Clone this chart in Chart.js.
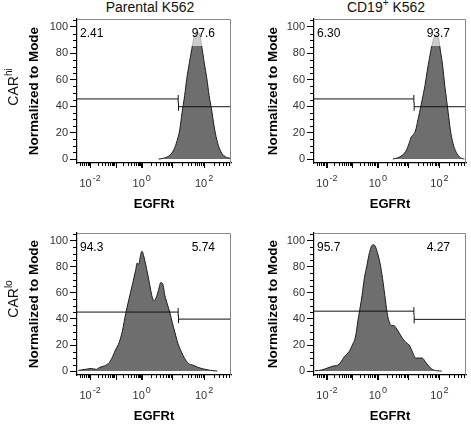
<!DOCTYPE html>
<html>
<head>
<meta charset="utf-8">
<script src="https://cdn.jsdelivr.net/npm/chart.js@4.4.0/dist/chart.umd.min.js"></script>
<style>
  body { margin: 0; background: #fff; font-family: "Liberation Sans", Arial, sans-serif; }
  #wrap { position: relative; width: 471px; height: 424px; overflow: hidden; }
  canvas { position: absolute; }
  .col { position: absolute; top: -1px; font-size: 14px; transform: translateX(-50%); white-space: nowrap; color: #111; }
  .row { position: absolute; font-size: 14px; transform: translate(-50%, -50%) rotate(-90deg); white-space: nowrap; color: #111; }
  sup { font-size: 10px; vertical-align: 6px; line-height: 0; }
</style>
</head>
<body>
<div id="wrap">
  <div class="col" style="left:150px">Parental K562</div>
  <div class="col" style="left:386px">CD19<sup>+</sup> K562</div>
  <canvas id="c0" width="236" height="212" style="left:0;top:0"></canvas>
  <canvas id="c1" width="235" height="212" style="left:236px;top:0"></canvas>
  <canvas id="c2" width="236" height="212" style="left:0;top:212px"></canvas>
  <canvas id="c3" width="235" height="212" style="left:236px;top:212px"></canvas>
  <div class="row" style="left:13px;top:87px">CAR<sup>hi</sup></div>
  <div class="row" style="left:13px;top:299px">CAR<sup>lo</sup></div>
</div>

<script>
  // x values are display channels (0-100 across the biexponential axis)
  const xTickPos = [8.5, 42, 82.5];
  const xTickExp = ['-2', '0', '2'];
  const decadePos = [-8, 8.5, 25, 42, 62, 82.5, 103];   // 10^-3 .. 10^3
  const yTicks = [0, 20, 40, 60, 80, 100];

  // CARhi, Parental K562
  const parentalHiX = [53, 55, 59.2, 62.4, 64.5, 66.7, 68.2, 69.9, 71.3, 73.0, 74.5, 76.2, 77.7, 79.4, 80.9, 82.6, 84.3, 85.8, 87.3, 89.0, 90.7, 92.8, 95.4, 98.5, 100];
  const parentalHiY = [0, 0.3, 2, 6, 12, 22, 35, 48, 61, 73, 83, 93, 96, 95, 86, 73, 61, 48, 38, 25, 15, 7, 2.5, 0.8, 0.5];
  // CARhi, CD19+ K562
  const cd19HiX = [51.9, 56.2, 60.5, 62.6, 64.1, 65.8, 66.9, 67.9, 69.4, 71.2, 72.9, 74.4, 75.9, 77.6, 79.1, 80.3, 81.8, 83.3, 84.6, 86.1, 87.2, 88.3, 89.7, 91.4, 93.6, 96.4, 98.9];
  const cd19HiY = [0, 1.5, 6, 12, 17, 19, 22, 27, 35, 45, 55, 66, 76, 86, 92, 94, 92, 81, 71, 55, 45, 35, 22, 12, 5, 1, 0];
  // CARlo, Parental K562
  const parentalLoX = [0.85, 6.2, 9.3, 12.5, 14.6, 17.8, 21.0, 23.1, 25.3, 27.4, 29.5, 31.6, 33.3, 34.8, 36.3, 38.0, 39.1, 40.1, 41.2, 42.2, 43.3, 44.4, 45.9, 47.1, 48.6, 50.1, 51.6, 52.9, 54.4, 55.6, 57.1, 58.6, 60.3, 61.8, 63.5, 65.6, 67.7, 69.9, 72.4, 75.2, 78.3, 82.6, 86.8, 91.1];
  const parentalLoY = [0.5, 1.5, 2, 1.3, 2.8, 4, 6.6, 11, 17, 22, 31, 44, 53, 60.5, 68, 77, 83, 82, 88.5, 92, 88.5, 83, 74.5, 67, 58, 54, 57, 62, 68, 67, 58, 51.5, 45, 37.5, 30, 21, 15, 9.7, 5.9, 4.6, 3, 1.5, 0.5, 0];
  // CARlo, CD19+ K562
  const cd19LoX = [0.64, 4.9, 9.2, 12.4, 15.6, 17.7, 19.9, 23.1, 25.2, 27.4, 28.8, 30.1, 31.6, 33.1, 34.8, 36.5, 38.7, 40.2, 41.7, 43.4, 45.1, 46.6, 48.1, 49.4, 50.9, 52.4, 54.1, 56.2, 58.3, 60.5, 62.6, 64.7, 66.9, 69.0, 71.2, 73.3, 75.4, 77.6, 80.8, 84.0];
  const cd19LoY = [0.3, 0.8, 2.5, 3.8, 4.6, 7, 11, 15, 20, 27, 38, 47, 58, 71, 81, 91, 97, 96, 91, 83, 71, 58, 45, 38, 35, 35, 33, 29, 25, 22, 20, 15, 10, 10, 10, 7, 4, 1.5, 0.3, 0];

  // gates
  const gateSplit = 65.7;
  const gateLeftY = [45.5, 45.5, 45.3, 46];
  const gateRightY = [39.6, 39.6, 39.9, 39.7];
  const pctLeft = ['2.41', '6.30', '94.3', '95.7'];
  const pctRight = ['97.6', '93.7', '5.74', '4.27'];

  const font = '"Liberation Sans", Arial, sans-serif';

  const panels = [
    { id: 'c0', xs: parentalHiX, ys: parentalHiY, padL: 26, yW: 51, padT: 19, padR: 2 },
    { id: 'c1', xs: cd19HiX, ys: cd19HiY, padL: 29, yW: 49, padT: 19, padR: 1 },
    { id: 'c2', xs: parentalLoX, ys: parentalLoY, padL: 26, yW: 51, padT: 21, padR: 2 },
    { id: 'c3', xs: cd19LoX, ys: cd19LoY, padL: 29, yW: 49, padT: 21, padR: 1 }
  ];

  const decor = {
    id: 'decor',
    afterDatasetsDraw(chart, args, opts) {
      const { ctx, chartArea: a, scales: { x, y } } = chart;
      ctx.save();
      // frame
      ctx.strokeStyle = '#888';
      ctx.lineWidth = 1;
      ctx.beginPath();
      ctx.moveTo(a.left, a.top + 0.5);
      ctx.lineTo(a.right - 0.5, a.top + 0.5);
      ctx.lineTo(a.right - 0.5, a.bottom);
      ctx.stroke();
      // minor ticks
      ctx.strokeStyle = '#000';
      ctx.beginPath();
      for (let v = 5; v < 106; v += 5) {
        if (v % 20 === 0) continue;
        const py = Math.round(y.getPixelForValue(v)) + 0.5;
        ctx.moveTo(a.left - 4, py);
        ctx.lineTo(a.left, py);
      }
      for (let i = 0; i < decadePos.length - 1; i++) {
        const d0 = decadePos[i], d1 = decadePos[i + 1];
        if (d0 >= 0 && d0 <= 100) {
          const px = Math.round(x.getPixelForValue(d0)) + 0.5;
          ctx.moveTo(px, a.bottom);
          ctx.lineTo(px, a.bottom + 5);
        }
        for (let k = 2; k <= 9; k++) {
          const v = d0 + Math.log10(k) * (d1 - d0);
          if (v < 0.5 || v > 99.5) continue;
          const px = Math.round(x.getPixelForValue(v)) + 0.5;
          ctx.moveTo(px, a.bottom);
          ctx.lineTo(px, a.bottom + 3);
        }
      }
      ctx.stroke();
      // x tick labels: 10 with raised exponent
      ctx.fillStyle = '#333';
      ctx.textAlign = 'left';
      ctx.textBaseline = 'alphabetic';
      xTickPos.forEach((v, k) => {
        ctx.font = '11px ' + font;
        const wb = ctx.measureText('10').width;
        ctx.font = '9px ' + font;
        const we = ctx.measureText(xTickExp[k]).width;
        const x0 = x.getPixelForValue(v) - (wb + we + 1) / 2;
        ctx.font = '11px ' + font;
        ctx.fillText('10', x0, a.bottom + 24);
        ctx.font = '9px ' + font;
        ctx.fillText(xTickExp[k], x0 + wb + 1, a.bottom + 18);
      });
      // percentages
      ctx.font = '12px ' + font;
      const by = a.top + 18;
      const w = ctx.measureText(opts.right).width;
      ctx.fillStyle = 'rgba(255,255,255,0.65)';
      ctx.fillRect(a.right - 17 - w, by - 10, w + 2, 19);
      ctx.fillStyle = '#000';
      ctx.textAlign = 'left';
      ctx.fillText(opts.left, a.left + 3, by);
      ctx.textAlign = 'right';
      ctx.fillText(opts.right, a.right - 16, by);
      ctx.restore();
    }
  };

  panels.forEach((p, i) => {
    const hist = p.xs.map((v, j) => ({ x: v, y: p.ys[j] }));
    const ctx = document.getElementById(p.id).getContext('2d');
    new Chart(ctx, {
      type: 'line',
      data: {
        datasets: [
          {
            data: [{ x: 0, y: gateLeftY[i] }, { x: gateSplit, y: gateLeftY[i] }],
            borderColor: '#111', borderWidth: 1, fill: false,
            pointStyle: 'line', rotation: 90, pointRadius: [0, 4], pointBorderColor: '#111', pointBorderWidth: 1,
            order: 0
          },
          {
            data: [{ x: gateSplit + 0.2, y: gateRightY[i] }, { x: 100, y: gateRightY[i] }],
            borderColor: '#111', borderWidth: 1, fill: false,
            pointStyle: 'line', rotation: 90, pointRadius: [4, 0], pointBorderColor: '#111', pointBorderWidth: 1,
            order: 0
          },
          {
            data: hist,
            fill: 'origin',
            backgroundColor: '#6e6e6e',
            borderColor: '#1c1c1c',
            borderWidth: 1,
            pointRadius: 0,
            cubicInterpolationMode: 'monotone',
            order: 1
          }
        ]
      },
      options: {
        responsive: false,
        animation: false,
        devicePixelRatio: 1,
        layout: { padding: { left: p.padL, top: p.padT, right: p.padR, bottom: 0 } },
        plugins: {
          legend: { display: false },
          tooltip: { enabled: false },
          decor: { left: pctLeft[i], right: pctRight[i] }
        },
        scales: {
          x: {
            type: 'linear', min: 0, max: 100,
            afterBuildTicks: s => { s.ticks = xTickPos.map(v => ({ value: v })); },
            afterFit: s => { s.height = 49; },
            border: { color: '#000', width: 1.2 },
            grid: { drawOnChartArea: false, tickLength: 5, color: '#000' },
            ticks: { display: false },
            title: {
              display: true, text: 'EGFRt', color: '#000',
              font: { size: 13, weight: 'bold', family: font }, padding: { top: 0, bottom: 0 }
            }
          },
          y: {
            min: -3, max: 106,
            afterBuildTicks: s => { s.ticks = yTicks.map(v => ({ value: v })); },
            afterFit: s => { s.width = p.yW; },
            border: { color: '#000', width: 1.2 },
            grid: { drawOnChartArea: false, tickLength: 7, color: '#000' },
            ticks: { color: '#333', font: { size: 11, family: font }, padding: 2 },
            title: {
              display: true, text: 'Normalized to Mode', color: '#000',
              font: { size: 13.5, weight: 'bold', family: font }, padding: { top: 0, bottom: 0 }
            }
          }
        }
      },
      plugins: [decor]
    });
  });
</script>
</body>
</html>
